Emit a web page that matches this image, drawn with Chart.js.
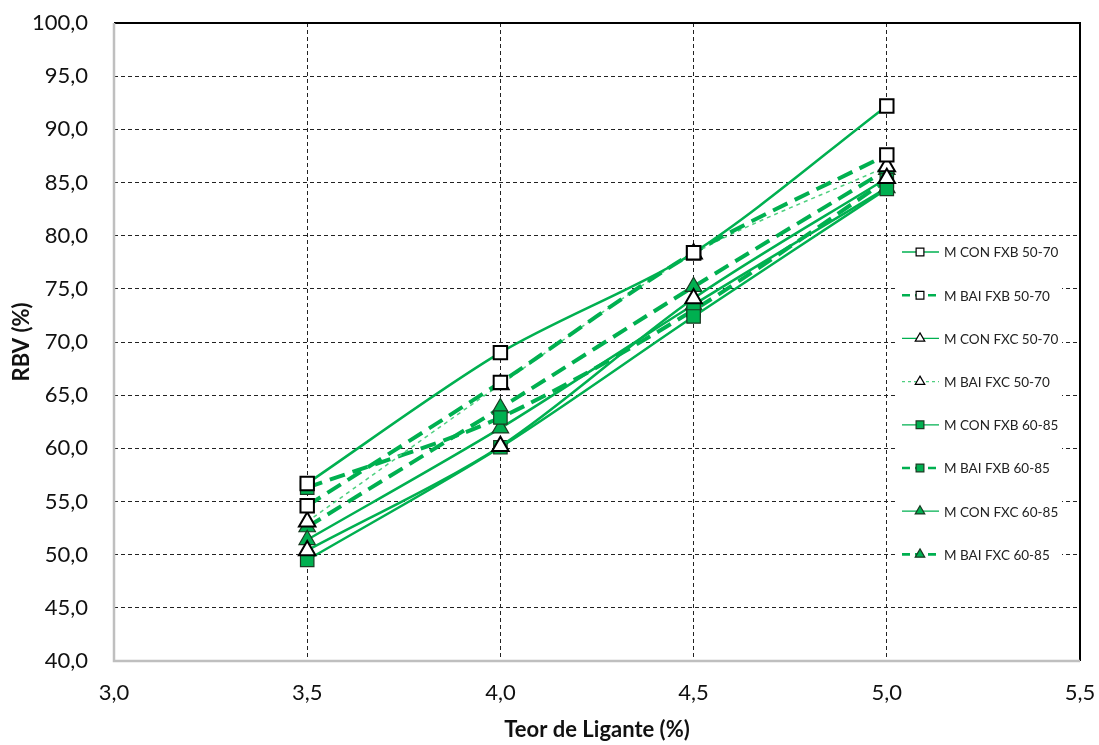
<!DOCTYPE html>
<html>
<head>
<meta charset="utf-8">
<script src="https://cdn.jsdelivr.net/npm/chart.js@4/dist/chart.umd.min.js"></script>
<style>
  html, body { margin: 0; padding: 0; background: #fff; }
  #caixa { width: 1099px; height: 745px; }
</style>
</head>
<body>
<div id="caixa"><canvas id="grafico"></canvas></div>
<script>
// teor de ligante (%) e RBV (%) de cada mistura
const teores = [3.5, 4.0, 4.5, 5.0];
const conFxb5070 = [56.7, 69.0, 78.4, 92.2];
const baiFxb5070 = [54.6, 66.2, 78.4, 87.6];
const conFxc5070 = [50.4, 60.2, 74.1, 85.4];
const baiFxc5070 = [53.1, 66.0, 78.3, 86.5];
const conFxb6085 = [49.5, 60.1, 72.4, 84.4];
const baiFxb6085 = [56.3, 62.9, 73.0, 85.2];
const conFxc6085 = [51.4, 61.9, 73.5, 84.5];
const baiFxc6085 = [52.6, 63.8, 75.2, 86.2];

const ticksX = [3.0, 3.5, 4.0, 4.5, 5.0, 5.5];
const ticksY = [40, 45, 50, 55, 60, 65, 70, 75, 80, 85, 90, 95, 100];

const verde = '#00b050';
const verdeClaro = '#4fd080';
const fonte = 'Lato, "Liberation Sans", sans-serif';

function pontos(valores) {
    return teores.map((t, i) => ({ x: t, y: valores[i] }));
}

function serie(nome, valores, marcador, cheio, tracejado, cor, espessura) {
    return {
        label: nome,
        data: pontos(valores),
        borderColor: cor,
        borderWidth: espessura,
        borderDash: tracejado,
        pointStyle: marcador,
        pointRadius: 9.5,
        pointHoverRadius: 9.5,
        pointBackgroundColor: cheio ? verde : '#ffffff',
        pointBorderColor: cheio ? '#1a3a22' : '#000000',
        pointBorderWidth: cheio ? 1.2 : 2,
        tension: 0.3,
        fill: false
    };
}

const datasets = [
    serie('M CON FXB 50-70', conFxb5070, 'rect', false, [], verde, 2.5),
    serie('M BAI FXB 50-70', baiFxb5070, 'rect', false, [16, 8], verde, 4),
    serie('M CON FXC 50-70', conFxc5070, 'triangle', false, [], verde, 2.5),
    serie('M BAI FXC 50-70', baiFxc5070, 'triangle', false, [4, 4], verdeClaro, 1.5),
    serie('M CON FXB 60-85', conFxb6085, 'rect', true, [], verde, 2.5),
    serie('M BAI FXB 60-85', baiFxb6085, 'rect', true, [16, 8], verde, 4),
    serie('M CON FXC 60-85', conFxc6085, 'triangle', true, [], verde, 2.5),
    serie('M BAI FXC 60-85', baiFxc6085, 'triangle', true, [16, 8], verde, 4)
];

// moldura: topo e direita pretos, esquerda e base cinza
const moldura = {
    id: 'moldura',
    beforeDatasetsDraw(chart) {
        const { ctx, chartArea: a } = chart;
        ctx.save();
        ctx.setLineDash([]);
        ctx.lineWidth = 2;
        ctx.strokeStyle = '#000';
        ctx.beginPath();
        ctx.moveTo(a.left, a.top);
        ctx.lineTo(a.right, a.top);
        ctx.lineTo(a.right, a.bottom);
        ctx.stroke();
        ctx.strokeStyle = '#bfbfbf';
        ctx.lineWidth = 2.5;
        ctx.beginPath();
        ctx.moveTo(a.left, a.top);
        ctx.lineTo(a.left, a.bottom);
        ctx.lineTo(a.right, a.bottom);
        ctx.stroke();
        ctx.restore();
    }
};

// legenda dentro da área do gráfico, à direita
const legendaInterna = {
    id: 'legendaInterna',
    afterDraw(chart) {
        const ctx = chart.ctx;
        ctx.save();
        ctx.fillStyle = '#fff';
        ctx.fillRect(896, 241, 166, 330);
        chart.data.datasets.forEach((ds, i) => {
            const y = 252 + i * 43.2;
            ctx.strokeStyle = ds.borderColor;
            ctx.lineWidth = ds.borderWidth > 3 ? 2.6 : 1.3;
            ctx.setLineDash(ds.borderWidth > 3 ? [8, 5] : (ds.borderDash.length ? [3, 3] : []));
            ctx.beginPath();
            ctx.moveTo(902, y);
            ctx.lineTo(939, y);
            ctx.stroke();
            ctx.setLineDash([]);
            ctx.fillStyle = ds.pointBackgroundColor;
            ctx.strokeStyle = ds.pointBorderColor;
            ctx.lineWidth = 1.2;
            Chart.helpers.drawPoint(ctx, {
                pointStyle: ds.pointStyle,
                radius: 5.5,
                borderWidth: 1.2,
                rotation: 0
            }, 920, y);
            ctx.fillStyle = '#222';
            ctx.font = '13.5px ' + fonte;
            ctx.textBaseline = 'middle';
            ctx.fillText(ds.label, 944, y + 1);
        });
        ctx.restore();
    }
};

const virgula = v => Number(v).toFixed(1).replace('.', ',');

// sem folgas extras das escalas: a área do gráfico fica só com o padding do layout
function semFolga(s) {
    s.paddingTop = 0;
    s.paddingBottom = 0;
    s.paddingLeft = 0;
    s.paddingRight = 0;
}

new Chart(document.getElementById('grafico'), {
    type: 'line',
    data: { datasets },
    options: {
        responsive: true,
        maintainAspectRatio: false,
        animation: false,
        layout: { padding: { top: 23, right: 19, left: 0, bottom: 0 } },
        plugins: {
            legend: { display: false },
            tooltip: { enabled: false }
        },
        scales: {
            x: {
                type: 'linear',
                min: 3.0,
                max: 5.5,
                afterBuildTicks: s => { s.ticks = ticksX.map(v => ({ value: v })); },
                afterFit: s => { s.height = 84; semFolga(s); },
                ticks: {
                    callback: virgula,
                    font: { family: fonte, size: 22 },
                    color: '#111',
                    padding: 19,
                    maxRotation: 0
                },
                grid: { color: '#222', lineWidth: 1, drawTicks: false },
                border: { display: false, dash: [4, 3] },
                title: {
                    display: true,
                    text: 'Teor de Ligante (%)',
                    font: { family: fonte, size: 22, weight: 'bold' },
                    color: '#111',
                    padding: { top: 0, bottom: 2 }
                }
            },
            y: {
                min: 40,
                max: 100,
                afterBuildTicks: s => { s.ticks = ticksY.map(v => ({ value: v })); },
                afterFit: s => { s.width = 114; semFolga(s); },
                ticks: {
                    callback: virgula,
                    font: { family: fonte, size: 22 },
                    color: '#111',
                    padding: 26
                },
                grid: { color: '#222', lineWidth: 1, drawTicks: false },
                border: { display: false, dash: [4, 3] },
                title: {
                    display: true,
                    text: 'RBV (%)',
                    font: { family: fonte, size: 22, weight: 'bold' },
                    color: '#111',
                    padding: { top: 9, bottom: 0 }
                }
            }
        }
    },
    plugins: [moldura, legendaInterna]
});
</script>
</body>
</html>
